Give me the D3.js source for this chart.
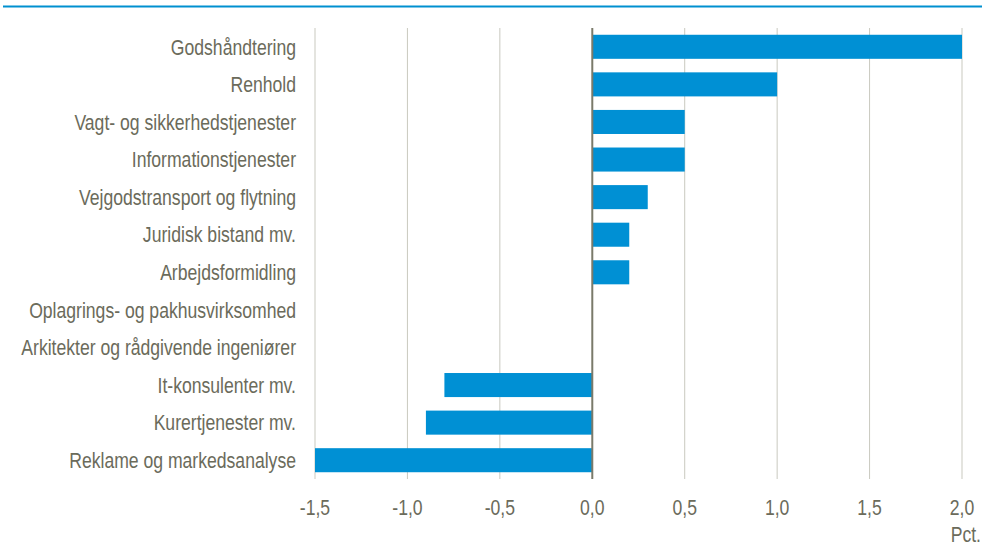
<!DOCTYPE html>
<html>
<head>
<meta charset="utf-8">
<script src="https://cdn.jsdelivr.net/npm/d3@7"></script>
<style>
  body { margin: 0; background: #fff; }
  text { font-family: "Liberation Sans", Arial, sans-serif; }
</style>
</head>
<body>
<script>
let width = 982;
let height = 545;

// data
let categories = ["Godshåndtering", "Renhold", "Vagt- og sikkerhedstjenester", "Informationstjenester",
  "Vejgodstransport og flytning", "Juridisk bistand mv.", "Arbejdsformidling",
  "Oplagrings- og pakhusvirksomhed", "Arkitekter og rådgivende ingeniører",
  "It-konsulenter mv.", "Kurertjenester mv.", "Reklame og markedsanalyse"];
let values = [2.0, 1.0, 0.5, 0.5, 0.3, 0.2, 0.2, 0.0, 0.0, -0.8, -0.9, -1.5];
let ticks = [-1.5, -1.0, -0.5, 0.0, 0.5, 1.0, 1.5, 2.0];

let textColor = "#6b6b5b";
let fontSize = 22;
let squeeze = 0.8; // narrow-font look

let svg = d3.select("body")
.append("svg")
.attr("width", width)
.attr("height", height);

// blue rule at top
svg.append("line")
.attr("x1", 3).attr("x2", width)
.attr("y1", 6.5).attr("y2", 6.5)
.attr("stroke", "#0090d0")
.attr("stroke-width", 2);

let x = d3.scaleLinear()
.domain([-1.5, 2.0])
.range([315, 962]);

let y = d3.scaleBand()
.domain(categories)
.range([28, 479])
.paddingInner(0.36)
.paddingOuter(0.18);

// gridlines
svg.append("g")
.selectAll("line")
.data(ticks.filter(d => d !== 0))
.enter()
.append("line")
.attr("x1", d => x(d)).attr("x2", d => x(d))
.attr("y1", 28).attr("y2", 479)
.attr("stroke", "#c9c9bf")
.attr("stroke-width", 1);

// bars
svg.append("g")
.selectAll("rect")
.data(values)
.enter()
.append("rect")
.attr("x", d => x(Math.min(0, d)))
.attr("width", d => Math.abs(x(d) - x(0)))
.attr("y", (d, i) => y(categories[i]))
.attr("height", y.bandwidth())
.attr("fill", "#0090d4");

// zero line
svg.append("line")
.attr("x1", x(0)).attr("x2", x(0))
.attr("y1", 28).attr("y2", 479)
.attr("stroke", "#7a7a6a")
.attr("stroke-width", 2);

// category labels
svg.append("g")
.attr("font-size", fontSize)
.attr("fill", textColor)
.attr("text-anchor", "end")
.selectAll("text")
.data(categories)
.enter()
.append("text")
.attr("transform", d => "translate(296," + (y(d) + y.bandwidth() / 2) + ") scale(" + squeeze + ",1)")
.attr("dy", "0.35em")
.text(d => d);

// x tick labels
svg.append("g")
.attr("font-size", fontSize)
.attr("fill", textColor)
.attr("text-anchor", "middle")
.selectAll("text")
.data(ticks)
.enter()
.append("text")
.attr("transform", d => "translate(" + x(d) + ",507) scale(" + squeeze + ",1)")
.attr("dy", "0.35em")
.text(d => d3.format(".1f")(d).replace(".", ",").replace("−", "-"));

svg.append("text")
.attr("transform", "translate(981,534) scale(" + squeeze + ",1)")
.attr("dy", "0.35em")
.attr("text-anchor", "end")
.attr("font-size", fontSize)
.attr("fill", textColor)
.text("Pct.");
</script>
</body>
</html>
